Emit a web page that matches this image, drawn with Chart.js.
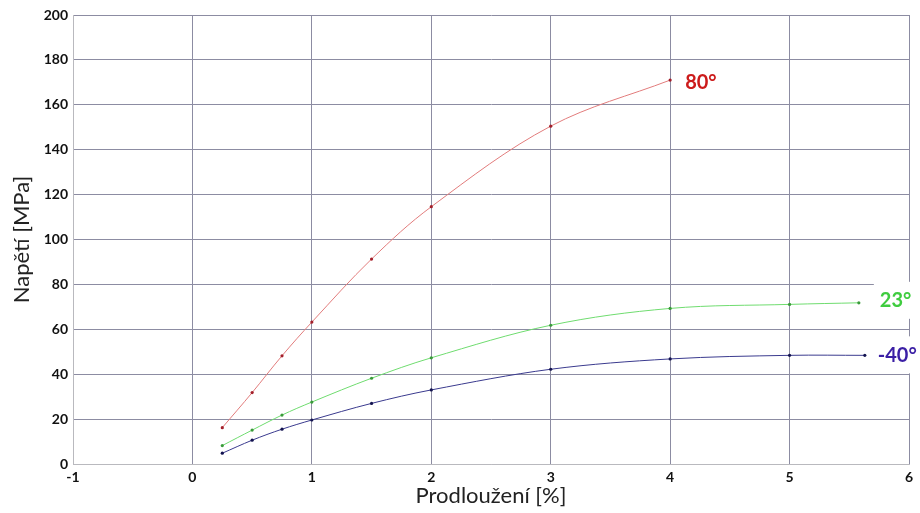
<!DOCTYPE html>
<html>
<head>
<meta charset="utf-8">
<script src="https://cdn.jsdelivr.net/npm/chart.js@4/dist/chart.umd.min.js"></script>
<style>
  html, body { margin: 0; padding: 0; background: #fff; }
  #wrap { width: 920px; height: 513px; }
</style>
</head>
<body>
<div id="wrap"><canvas id="c" width="920" height="513"></canvas></div>
<script>
// Tensile curves at three temperatures: strain [%] vs stress [MPa]
const strain80 = [0.25, 0.5, 0.75, 1, 1.5, 2, 3, 4];
const stress80 = [16.2, 31.8, 48.2, 63.2, 91.3, 114.6, 150.5, 171.0];

const strain23 = [0.25, 0.5, 0.75, 1, 1.5, 2, 3, 4, 5, 5.58];
const stress23 = [8.2, 15.1, 21.8, 27.6, 38.2, 47.3, 61.8, 69.3, 71.1, 71.8];

const strainMinus40 = [0.25, 0.5, 0.75, 1, 1.5, 2, 3, 4, 5, 5.63];
const stressMinus40 = [4.8, 10.6, 15.5, 19.6, 27.0, 33.0, 42.2, 46.8, 48.4, 48.4];

const seriesNames = ['80°', '23°', '-40°'];
const xTitle = 'Prodloužení [%]';
const yTitle = 'Napětí [MPa]';

const toPoints = (xs, ys) => xs.map((x, i) => ({ x: x, y: ys[i] }));

// End-of-curve labels; box = white patch hiding grid lines behind the text
const endLabels = {
  id: 'endLabels',
  beforeDatasetsDraw(chart, args, opts) {
    const ctx = chart.ctx;
    ctx.save();
    ctx.font = opts.font;
    chart.data.datasets.forEach((ds, i) => {
      const cfg = opts.items[i];
      if (!cfg.box) return;
      const meta = chart.getDatasetMeta(i);
      const pt = meta.data[meta.data.length - 1];
      const w = ctx.measureText(ds.label).width;
      ctx.fillStyle = '#ffffff';
      ctx.fillRect(pt.x + cfg.dx - 6, pt.y + cfg.dy - 19, w + 14, 37);
    });
    ctx.restore();
  },
  afterDatasetsDraw(chart, args, opts) {
    const ctx = chart.ctx;
    ctx.save();
    ctx.font = opts.font;
    ctx.textBaseline = 'middle';
    ctx.textAlign = 'left';
    chart.data.datasets.forEach((ds, i) => {
      const cfg = opts.items[i];
      const meta = chart.getDatasetMeta(i);
      const pt = meta.data[meta.data.length - 1];
      ctx.fillStyle = cfg.color;
      ctx.fillText(ds.label, pt.x + cfg.dx, pt.y + cfg.dy);
    });
    ctx.restore();
  }
};

const gridDark = '#8c8ca2';
const gridLight = '#b9b9be';

const lineStyle = (line, dot) => ({
  showLine: true,
  borderColor: line,
  borderWidth: 1,
  pointRadius: 1.6,
  pointBackgroundColor: dot,
  pointBorderWidth: 0,
  tension: 0.35
});

new Chart(document.getElementById('c'), {
  type: 'scatter',
  data: {
    datasets: [
      Object.assign({ label: seriesNames[0], data: toPoints(strain80, stress80) },
        lineStyle('#e27c7c', '#a31f2a')),
      Object.assign({ label: seriesNames[1], data: toPoints(strain23, stress23) },
        lineStyle('#6fdc6f', '#3a9a3a')),
      Object.assign({ label: seriesNames[2], data: toPoints(strainMinus40, stressMinus40) },
        lineStyle('#3a3a8e', '#141450'))
    ]
  },
  options: {
    responsive: false,
    animation: false,
    layout: { padding: { top: 15, right: 11, left: 0, bottom: 0 } },
    plugins: {
      legend: { display: false },
      tooltip: { enabled: false },
      endLabels: {
        font: 'bold 20px Lato',
        items: [
          { color: '#cc1b1b', dx: 15, dy: 2, box: false },
          { color: '#3fcc3f', dx: 21, dy: -2, box: true },
          { color: '#3b1fa5', dx: 13, dy: 0, box: true }
        ]
      }
    },
    scales: {
      x: {
        type: 'linear',
        min: -1,
        max: 6,
        afterFit(scale) { scale.height = 49; },
        ticks: {
          stepSize: 1,
          padding: 5,
          color: '#111',
          font: { family: 'Lato', weight: 'bold', size: 14 }
        },
        grid: {
          drawTicks: false,
          lineWidth: 1,
          color: (ctx) => (ctx.tick && ctx.tick.value === -1) ? gridLight : gridDark
        },
        border: { display: true, color: gridLight, width: 1 },
        title: {
          display: true,
          text: xTitle,
          color: '#222',
          font: { family: 'Lato', size: 22 },
          padding: { top: 0, bottom: 4 }
        }
      },
      y: {
        type: 'linear',
        min: 0,
        max: 200,
        afterFit(scale) { scale.width = 73; },
        ticks: {
          stepSize: 20,
          padding: 5,
          color: '#111',
          font: { family: 'Lato', weight: 'bold', size: 14 }
        },
        grid: {
          drawTicks: false,
          lineWidth: 1,
          color: (ctx) => (ctx.tick && ctx.tick.value === 0) ? gridLight : gridDark
        },
        border: { display: true, color: gridLight, width: 1 },
        title: {
          display: true,
          text: yTitle,
          color: '#222',
          font: { family: 'Lato', size: 22 },
          padding: { top: 9, bottom: 0 }
        }
      }
    }
  },
  plugins: [endLabels]
});
</script>
</body>
</html>
